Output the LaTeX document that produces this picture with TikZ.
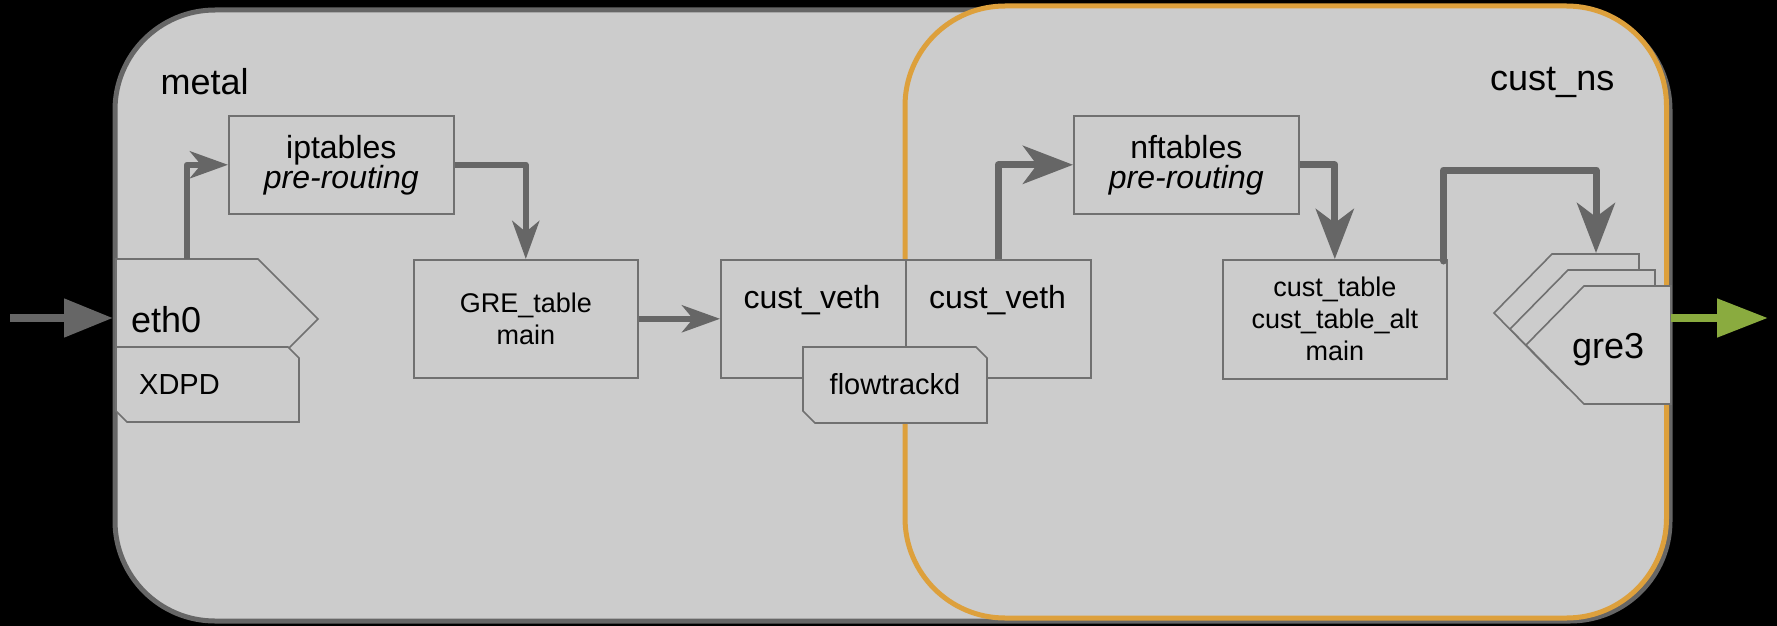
\documentclass[tikz,border=0pt]{standalone}
\usepackage{fontspec}
\setmainfont{Liberation Sans}
\usetikzlibrary{arrows.meta}
\definecolor{bgfill}{HTML}{CCCCCC}
\definecolor{metalc}{HTML}{666666}
\definecolor{nsc}{HTML}{DDA03C}
\definecolor{boxc}{HTML}{707070}
\definecolor{connc}{HTML}{666666}
\definecolor{outc}{HTML}{8AAB3F}
\newcommand\fBig{\fontsize{36}{40}\selectfont}
\newcommand\fMed{\fontsize{32}{30}\selectfont}
\newcommand\fMid{\fontsize{29}{33}\selectfont}
\newcommand\fSm{\fontsize{27}{32}\selectfont}
\begin{document}
\begin{tikzpicture}[x=1pt,y=-1pt,
  shapebox/.style={draw=boxc, fill=bgfill, line width=1.6pt},
  tbox/.style={shapebox, rectangle, inner sep=0pt, anchor=north west, align=center, text=black},
  lbl/.style={inner sep=0pt, text=black},
  connS/.style={draw=connc, line width=6pt, line join=round, -{Stealth[length=38pt,width=27pt,inset=11pt]}},
  connL/.style={draw=connc, line width=7pt, line join=round, -{Stealth[length=50pt,width=38pt,inset=14pt]}},
  inarr/.style={draw=connc, line width=8pt, -{Triangle[length=49pt,width=37pt]}},
  outarr/.style={draw=outc, line width=8pt, -{Triangle[length=51pt,width=37pt]}},
  region/.style={rounded corners=100pt, fill=bgfill, line width=5pt}
]
\useasboundingbox (0,0) rectangle (1777,626);
\fill[black] (0,0) rectangle (1777,626);

% regions
\draw[region, draw=metalc] (115,10) rectangle (1670,621);
\draw[region, draw=nsc] (905,6) rectangle (1666.5,618);
\node[lbl, anchor=base west, font=\fBig] (metal) at (160.5,94) {metal};
\node[lbl, anchor=base west, font=\fBig] (custns) at (1490,90) {cust\_ns};

% boxes
\node[tbox, minimum width=225pt, minimum height=98pt, font=\fMed] (ipt) at (228,115) {iptables\\\textit{pre-routing}};
\node[tbox, minimum width=224pt, minimum height=118pt, font=\fSm] (gre) at (413,259) {GRE\_table\\main};
\node[tbox, minimum width=185pt, minimum height=118pt] (veth1) at (720,259) {};
\node[tbox, minimum width=185pt, minimum height=118pt] (veth2) at (905,259) {};
\node[lbl, anchor=base, font=\fMed] (veth1t) at (812,308) {cust\_veth};
\node[lbl, anchor=base, font=\fMed] (veth2t) at (997.5,308) {cust\_veth};
\node[tbox, minimum width=225pt, minimum height=98pt, font=\fMed] (nft) at (1073,115) {nftables\\\textit{pre-routing}};
\node[tbox, minimum width=224pt, minimum height=119pt, font=\fSm] (ctab) at (1222,259) {cust\_table\\cust\_table\_alt\\main};

% eth0 + XDPD
\draw[shapebox] (116,259) -- (258,259) -- (318,319) -- (258,379) -- (116,379) -- cycle;
\node[lbl, anchor=base west, font=\fBig] (eth0) at (131,332) {eth0};
\draw[shapebox] (116,347) -- (288,347) -- (299,358) -- (299,422) -- (127,422) -- (116,411) -- cycle;
\node[lbl, anchor=base west, font=\fMid] (xdpd) at (139,394) {XDPD};
\coordinate (eth0top) at (187,259);
\coordinate (eth0west) at (113,318);
\coordinate (src) at (10,318);

% flowtrackd
\draw[shapebox] (803,347) -- (976,347) -- (987,358) -- (987,423) -- (815,423) -- (803,411) -- cycle;
\node[lbl, anchor=base, font=\fMid] (flow) at (895,394) {flowtrackd};

% gre3 stack
\draw[shapebox] (1552,254) -- (1639,254) -- (1639,372) -- (1552,372) -- (1494,313) -- cycle;
\draw[shapebox] (1568,270) -- (1655,270) -- (1655,388) -- (1568,388) -- (1510,329) -- cycle;
\draw[shapebox] (1584,286) -- (1671,286) -- (1671,404) -- (1584,404) -- (1526,345) -- cycle;
\node[lbl, anchor=base west, font=\fBig] (gre3) at (1572,358) {gre3};
\coordinate (gre3top) at (1596,253);
\coordinate (gre3east) at (1671,318);
\coordinate (dst) at (1768,318);

% connectors
\draw[inarr] (src) -- (eth0west);
\draw[connS] (eth0top) |- (ipt.west);
\draw[connS] (ipt.east) -| (gre.north);
\draw[connS] (gre.east) -- (veth1.west);
\draw[connL] (veth2.north) |- (nft.west);
\draw[connL] (nft.east) -| (ctab.north);
\draw[connL, line cap=round] ([xshift=-4pt,yshift=-2pt]ctab.north east) -- ([xshift=-4pt]ctab.north east |- 0,170) -| (gre3top);
\draw[outarr] (gre3east) -- (dst);
\end{tikzpicture}
\end{document}
